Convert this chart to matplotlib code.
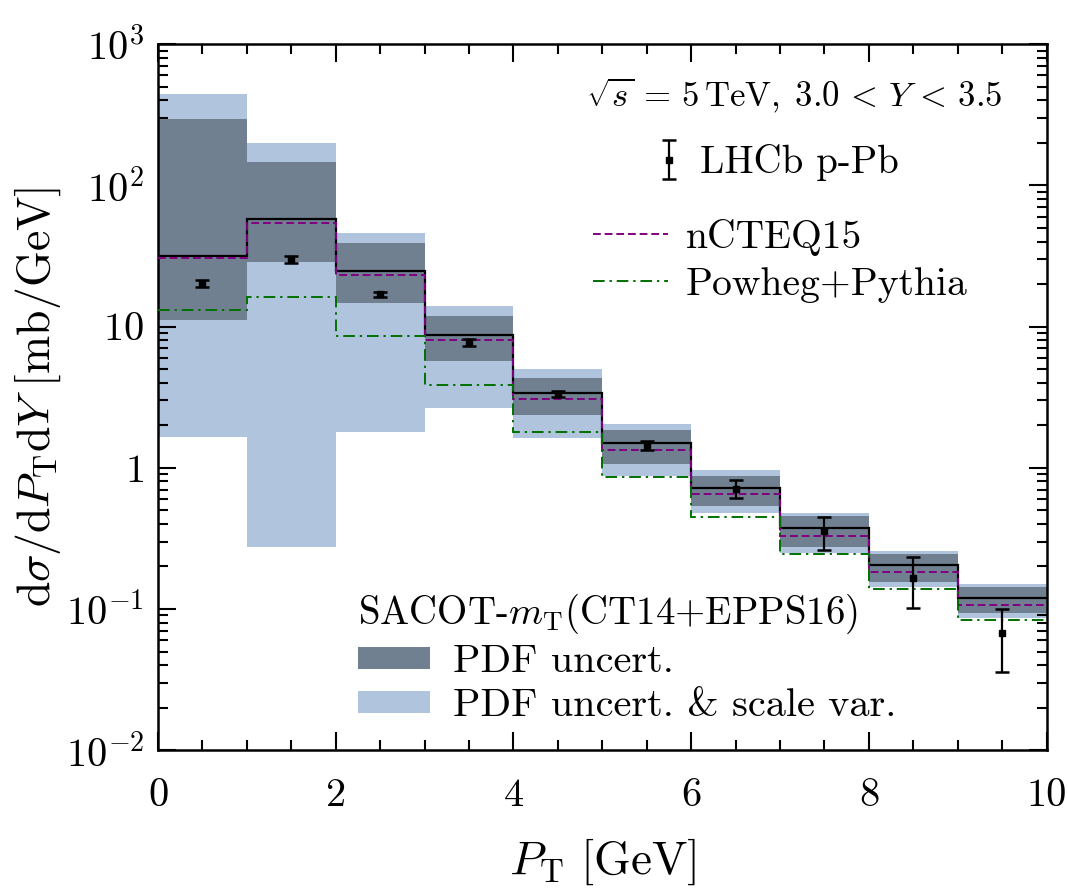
import numpy as np
import matplotlib
matplotlib.use("Agg")
import matplotlib.pyplot as plt
from matplotlib.patches import Patch
from matplotlib.lines import Line2D
from matplotlib.ticker import FixedLocator, MultipleLocator, LogLocator, NullFormatter

plt.rcParams['font.family'] = 'serif'
plt.rcParams['font.serif'] = ['cmr10']
plt.rcParams['mathtext.fontset'] = 'cm'
plt.rcParams['axes.unicode_minus'] = False

# bin edges in P_T [GeV]
edges = np.arange(0, 11, 1)
pt_mid = edges[:-1] + 0.5

# SACOT-mT (CT14+EPPS16) central and bands
sacot = [31.5, 57.4, 24.7, 8.67, 3.39, 1.50, 0.718, 0.374, 0.206, 0.119]
pdf_hi = [294, 146, 38.8, 11.8, 4.33, 1.85, 0.877, 0.452, 0.245, 0.142]
pdf_lo = [11.2, 28.6, 14.6, 5.67, 2.35, 1.06, 0.532, 0.277, 0.156, 0.093]
scale_hi = [442, 199, 45.7, 13.9, 5.01, 2.05, 0.957, 0.482, 0.259, 0.150]
scale_lo = [1.66, 0.275, 1.8, 2.65, 1.62, 0.87, 0.477, 0.251, 0.144, 0.086]

# other predictions
ncteq = [30.4, 53.7, 23.0, 8.04, 3.07, 1.34, 0.647, 0.331, 0.183, 0.106]
powheg = [13.0, 16.2, 8.6, 3.88, 1.78, 0.86, 0.447, 0.244, 0.139, 0.083]

# LHCb p-Pb data
lhcb = [20.2, 29.9, 16.9, 7.74, 3.35, 1.46, 0.71, 0.354, 0.167, 0.068]
lhcb_up = [21.5, 31.5, 17.7, 8.18, 3.48, 1.56, 0.818, 0.449, 0.234, 0.100]
lhcb_dn = [19.1, 28.3, 16.1, 7.25, 3.15, 1.34, 0.606, 0.261, 0.102, 0.036]

ytick_vals = [1e-2, 1e-1, 1, 10, 1e2, 1e3]
ytick_labels = [r'$10^{-2}$', r'$10^{-1}$', r'$1$', r'$10$', r'$10^{2}$', r'$10^{3}$']

dark = '#708090'
light = '#b0c4de'
purple = '#800080'
green = '#007000'
dash = (0, (4, 2))
dashdot = (0, (6, 2.5, 1.2, 2.5))

fig = plt.figure(figsize=(10.68, 8.91), dpi=100)
ax = fig.add_axes([0.148, 0.158, 0.832, 0.7925])

ax.stairs(scale_hi, edges, baseline=scale_lo, fill=True, color=light, lw=0, zorder=1)
ax.stairs(pdf_hi, edges, baseline=pdf_lo, fill=True, color=dark, lw=0, zorder=2)
ax.stairs(sacot, edges, baseline=None, color='black', lw=1.6, zorder=3)
ax.stairs(ncteq, edges, baseline=None, color=purple, lw=1.4, ls=dash, zorder=4)
ax.stairs(powheg, edges, baseline=None, color=green, lw=1.4, ls=dashdot, zorder=4)

lhcb = np.array(lhcb)
yerr = [lhcb - np.array(lhcb_dn), np.array(lhcb_up) - lhcb]
eb = ax.errorbar(pt_mid, lhcb, yerr=yerr, fmt='s', color='black', ms=4.5,
                 elinewidth=1.6, capsize=5, capthick=1.8, zorder=5)

ax.set_yscale('log')
ax.set_xlim(0, 10)
ax.set_ylim(1e-2, 1e3)

ax.xaxis.set_minor_locator(MultipleLocator(0.5))
ax.yaxis.set_major_locator(FixedLocator(ytick_vals))
ax.set_yticklabels(ytick_labels)
ax.yaxis.set_minor_locator(LogLocator(base=10, subs=np.arange(2, 10)))
ax.yaxis.set_minor_formatter(NullFormatter())
ax.set_xticks([0, 2, 4, 6, 8, 10])
ax.set_xticklabels(['0', '2', '4', '6', '8', '10'])

ax.tick_params(which='both', direction='in', top=True, right=True, width=1.5, labelsize=29)
ax.tick_params(which='major', length=13)
ax.tick_params(which='minor', length=7)
ax.tick_params(axis='x', pad=20)
ax.tick_params(axis='y', pad=10)
for s in ax.spines.values():
    s.set_linewidth(1.8)

ax.set_xlabel(r'$P_\mathrm{T}\ [\mathrm{GeV}]$', fontsize=34, labelpad=16)
ax.set_ylabel(r'$\mathrm{d}\sigma/\mathrm{d}P_\mathrm{T}\mathrm{d}Y\ [\mathrm{mb/GeV}]$', fontsize=33, labelpad=2)

ax.text(0.7165, 0.928, r'$\sqrt{s}\, =\, 5\,\mathrm{TeV},\; 3.0\, <\, Y\, <\, 3.5$', transform=ax.transAxes,
        ha='center', va='center', fontsize=25)

leg1 = ax.legend(handles=[eb], labels=['LHCb p-Pb'], loc='center left', bbox_to_anchor=(0.562, 0.832),
                 frameon=False, fontsize=28, handlelength=0.6, handletextpad=0.5, borderpad=0, borderaxespad=0)
ax.add_artist(leg1)

h2 = [Line2D([], [], color=purple, lw=1.4, ls=dash),
      Line2D([], [], color=green, lw=1.4, ls=dashdot)]
leg2 = ax.legend(handles=h2, labels=['nCTEQ15', 'Powheg+Pythia'], loc='upper left',
                 bbox_to_anchor=(0.489, 0.752), frameon=False, fontsize=28.5, handlelength=1.9,
                 handletextpad=0.45, labelspacing=0.28, borderpad=0, borderaxespad=0)
ax.add_artist(leg2)

h3 = [Patch(color=dark, lw=0), Patch(color=light, lw=0)]
leg3 = ax.legend(handles=h3, labels=['PDF uncert.', r'PDF uncert. & scale var.'], loc='lower left',
                 bbox_to_anchor=(0.225, 0.037), frameon=False, fontsize=29, handlelength=1.8,
                 handleheight=0.45, handletextpad=0.55, labelspacing=0.2, borderpad=0, borderaxespad=0,
                 title=r'SACOT-$m_\mathrm{T}$(CT14+EPPS16)', title_fontsize=28)
leg3._legend_box.align = 'left'

fig.savefig('out.png', dpi=100)
